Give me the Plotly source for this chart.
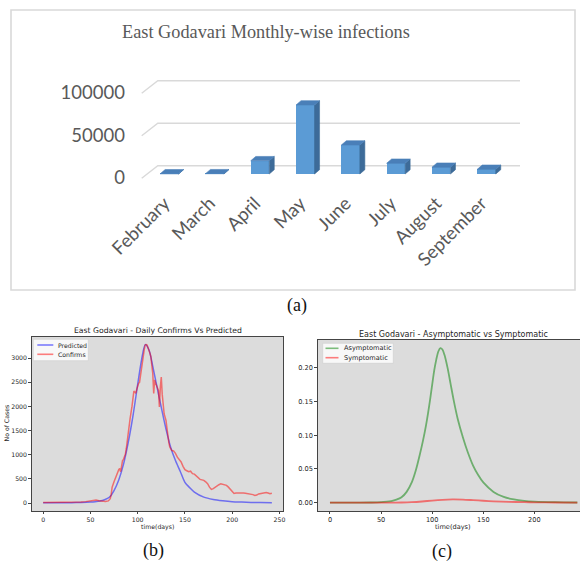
import plotly.graph_objects as go

W, H = 580, 561

# ---------------- data ----------------
months = ["February", "March", "April", "May", "June", "July", "August", "September"]
monthly_cases = [150, 300, 15600, 81200, 34100, 12600, 7900, 5500]
count_ticks = [0, 50000, 100000]
count_tick_text = ["0", "50000", "100000"]

pred_days = [0, 10, 20, 30, 40, 50, 55, 60, 65, 70, 75, 80, 85, 90, 95, 100, 104, 108,
             112, 116, 120, 125, 130, 135, 140, 145, 150, 155, 160, 170, 180, 190, 200,
             210, 220, 230, 242]
pred_cases = [5, 5, 6, 8, 12, 20, 28, 42, 70, 120, 260, 480, 800, 1250, 1800, 2450, 2950, 3280,
              3170, 2830, 2450, 1980, 1530, 1150, 880, 660, 430, 320, 228, 124, 76, 48, 28,
              20, 14, 10, 8]

conf_days = [0, 5, 10, 15, 20, 25, 30, 35, 40, 45, 50, 53, 56, 59, 62, 66, 69, 71, 72, 73,
             75, 77, 78, 80, 81, 82, 84, 85, 86, 87, 88, 89, 90, 92, 94, 95, 96, 97, 98, 99,
             100, 101, 102, 103, 104, 105, 106, 107, 108, 109, 110, 111, 112, 113, 114, 115,
             116, 117, 118, 119, 120, 121, 122, 123, 124, 125, 126, 127, 128, 129, 130, 131,
             132, 133, 134, 135, 136, 138, 140, 142, 144, 146, 148, 150, 152, 154, 156, 158,
             160, 162, 164, 166, 168, 170, 172, 174, 176, 178, 180, 182, 184, 186, 188, 190,
             192, 194, 196, 198, 200, 202, 204, 206, 208, 210, 212, 214, 216, 218, 220, 222,
             224, 226, 228, 230, 232, 234, 236, 238, 240, 242]
conf_cases = [12, 12, 12, 12, 12, 13, 14, 15, 20, 30, 45, 60, 65, 50, 40, 35, 45, 90, 180, 330,
              440, 550, 610, 690, 715, 650, 880, 900, 960, 1010, 1130, 1300, 1500, 1750, 2000, 2150, 2320, 2300, 2270, 2350,
              2450, 2480, 2500, 2650, 2820, 2950, 3050, 3180, 3270, 3280, 3270, 3230, 3160, 3100, 3030, 2850,
              2680, 2270, 2550, 2480, 2400, 2380, 2330, 1990, 2400, 2610, 2250, 1990, 1850, 1780, 1710, 1550,
              1370, 1250, 1160, 1120, 1090, 1080, 1030, 950, 890, 850, 760, 690, 670, 650, 660, 610,
              600, 560, 510, 490, 480, 470, 440, 400, 330, 283, 300, 332, 350, 380, 401, 390,
              375, 366, 330, 280, 228, 200, 207, 210, 205, 215, 210, 205, 200, 195, 190, 175,
              159, 165, 190, 200, 215, 225, 220, 210, 195, 205]

asym_days = [0, 20, 40, 50, 60, 65, 70, 75, 80, 84, 88, 91, 94, 96, 98, 100, 102, 104, 106,
             108, 110, 112, 115, 118, 121, 125, 130, 135, 140, 145, 150, 160, 170, 180, 190,
             200, 220, 242]
asym_frac = [0.0, 0.0001, 0.0003, 0.0008, 0.0025, 0.0045, 0.008, 0.016, 0.030, 0.048, 0.072,
             0.092, 0.115, 0.133, 0.153, 0.175, 0.196, 0.212, 0.224, 0.229, 0.227, 0.219,
             0.200, 0.176, 0.152, 0.124, 0.097, 0.074, 0.055, 0.041, 0.030, 0.016, 0.0085,
             0.0048, 0.0028, 0.0017, 0.0007, 0.0003]

sym_days = [0, 40, 60, 70, 80, 90, 100, 110, 120, 130, 140, 150, 160, 175, 190, 200, 220, 242]
sym_frac = [0.0, 0.0, 0.0001, 0.0003, 0.0008, 0.0018, 0.0032, 0.0043, 0.0049, 0.0046, 0.0038,
            0.0029, 0.0021, 0.0013, 0.0008, 0.0006, 0.0003, 0.0002]


def fx(p):
    return p / W


def fy(p):
    return 1 - p / H


GREY_TXT = "#595959"
MPL_TXT = "#262626"
SPINE = "#444444"

fig = go.Figure()
shapes = []
annotations = []

# ---------------- (a) 3-D column chart ----------------
A_X0, A_X1, A_Y0, A_Y1 = 141, 521, 75, 180
CAT0, CAT_STEP = 169.4, 45.3
BASE_PX, PX_PER_CASE = 174, 42.5 / 50000

a_xrange = [(A_X0 - CAT0) / CAT_STEP, (A_X1 - CAT0) / CAT_STEP]
a_yrange = [(BASE_PX - A_Y1) / PX_PER_CASE, (BASE_PX - A_Y0) / PX_PER_CASE]

BAR_W = 18.5 / CAT_STEP
DEPTH_X = 5 / CAT_STEP
DEPTH_Y = 4.3 / PX_PER_CASE
GRID_BACK = 8.2 / PX_PER_CASE
SLANT_FRONT = 4.3 / PX_PER_CASE
slant_x0 = (141.7 - CAT0) / CAT_STEP
wall_x0 = (157.8 - CAT0) / CAT_STEP
wall_x1 = (520 - CAT0) / CAT_STEP

for t in count_ticks:
    shapes.append(dict(type="path", xref="x", yref="y", layer="below",
                       path=f"M {slant_x0},{t - SLANT_FRONT} L {wall_x0},{t + GRID_BACK} L {wall_x1},{t + GRID_BACK}",
                       line=dict(color="#d9d9d9", width=1.4)))

cat_pos = list(range(len(months)))
fig.add_trace(go.Bar(x=cat_pos, y=monthly_cases, width=BAR_W, xaxis="x", yaxis="y",
                     marker=dict(color="#5b9bd5", line=dict(width=0)), showlegend=False,
                     hoverinfo="skip"))
for i, v in zip(cat_pos, monthly_cases):
    xl, xr = i - BAR_W / 2, i + BAR_W / 2
    fig.add_trace(go.Scatter(x=[xr, xr + DEPTH_X, xr + DEPTH_X, xr, xr],
                             y=[0, DEPTH_Y, v + DEPTH_Y, v, 0], xaxis="x", yaxis="y",
                             fill="toself", fillcolor="#3d6b99", mode="lines",
                             line=dict(width=0.6, color="#3d6b99"), showlegend=False, hoverinfo="skip"))
    fig.add_trace(go.Scatter(x=[xl, xr, xr + DEPTH_X, xl + DEPTH_X, xl],
                             y=[v, v, v + DEPTH_Y, v + DEPTH_Y, v], xaxis="x", yaxis="y",
                             fill="toself", fillcolor="#4a7fb8", mode="lines",
                             line=dict(width=0.6, color="#4a7fb8"), showlegend=False, hoverinfo="skip"))

# panel frame and title
shapes.append(dict(type="rect", xref="paper", yref="paper", layer="below",
                   x0=fx(11), x1=fx(575), y0=fy(290), y1=fy(10),
                   line=dict(color="#d9d9d9", width=1.6), fillcolor="rgba(0,0,0,0)"))
annotations.append(dict(text="East Godavari Monthly-wise infections", x=fx(265.5), y=fy(32),
                        xref="paper", yref="paper", showarrow=False, xanchor="center", yanchor="middle",
                        font=dict(family="Liberation Serif", size=18.3, color=GREY_TXT)))

# ---------------- (b) daily confirms vs predicted ----------------
fig.add_trace(go.Scatter(x=pred_days, y=pred_cases, mode="lines", name="Predicted",
                         line=dict(color="rgba(0,0,255,0.5)", width=1.5, shape="spline", smoothing=0.8),
                         xaxis="x2", yaxis="y2", showlegend=False))
fig.add_trace(go.Scatter(x=conf_days, y=conf_cases, mode="lines", name="Confirms",
                         line=dict(color="rgba(255,0,0,0.5)", width=1.5),
                         xaxis="x2", yaxis="y2", showlegend=False))

# ---------------- (c) asymptomatic vs symptomatic ----------------
fig.add_trace(go.Scatter(x=asym_days, y=asym_frac, mode="lines", name="Asymptomatic",
                         line=dict(color="rgba(0,128,0,0.5)", width=1.8, shape="spline", smoothing=0.8),
                         xaxis="x3", yaxis="y3", showlegend=False))
fig.add_trace(go.Scatter(x=sym_days, y=sym_frac, mode="lines", name="Symptomatic",
                         line=dict(color="rgba(255,0,0,0.5)", width=1.8, shape="spline", smoothing=0.8),
                         xaxis="x3", yaxis="y3", showlegend=False))

for ax in ("x2", "x3"):
    yax = "y" + ax[1:]
    shapes.append(dict(type="rect", xref=f"{ax} domain", yref=f"{yax} domain", layer="below",
                       x0=0, x1=1, y0=0, y1=1, fillcolor="#dcdcdc", line=dict(width=0)))


def mpl_legend(box, entries, size):
    (bx0, by0, bx1, by1) = box
    shapes.append(dict(type="rect", xref="paper", yref="paper", x0=fx(bx0), x1=fx(bx1),
                       y0=fy(by1), y1=fy(by0), fillcolor="rgba(255,255,255,0.8)",
                       line=dict(color="#cccccc", width=0.6)))
    for (lx0, lx1, ly, tx, label, color) in entries:
        shapes.append(dict(type="line", xref="paper", yref="paper", x0=fx(lx0), x1=fx(lx1),
                           y0=fy(ly), y1=fy(ly), line=dict(color=color, width=1.6)))
        annotations.append(dict(text=label, x=fx(tx), y=fy(ly), xref="paper", yref="paper",
                                showarrow=False, xanchor="left", yanchor="middle",
                                font=dict(family="DejaVu Sans", size=size, color=MPL_TXT)))


mpl_legend((33.3, 339.3, 88.3, 360.7),
           [(37.3, 53.3, 345.0, 55.5, "Predicted", "rgba(0,0,255,0.5)"),
            (37.3, 53.3, 354.3, 55.5, "Confirms", "rgba(255,0,0,0.5)")], 6.2)
mpl_legend((322.7, 343.3, 393.3, 363.3),
           [(325.5, 338.5, 348.3, 341.5, "Asymptomatic", "rgba(0,128,0,0.5)"),
            (325.5, 338.5, 357.7, 341.5, "Symptomatic", "rgba(255,0,0,0.5)")], 6.6)


def label(text, x, y, size, family="DejaVu Sans", color=MPL_TXT, angle=0):
    annotations.append(dict(text=text, x=fx(x), y=fy(y), xref="paper", yref="paper",
                            showarrow=False, xanchor="center", yanchor="middle", textangle=angle,
                            font=dict(family=family, size=size, color=color)))


label("East Godavari - Daily Confirms Vs Predicted", 157.5, 330, 7.7)
label("time(days)", 157.0, 526.7, 6.2)
label("No of Cases", 5.5, 423, 6.2, angle=-90)
label("East Godavari - Asymptomatic vs Symptomatic", 453.8, 334, 8.0)
label("time(days)", 453.0, 526.7, 6.6)

label("(a)", 297, 305, 18, family="Liberation Serif", color="#111111")
label("(b)", 153.7, 550.5, 18, family="Liberation Serif", color="#111111")
label("(c)", 441.7, 551.0, 18, family="Liberation Serif", color="#111111")

mpl_axis = dict(showgrid=False, zeroline=False, showline=True, linecolor=SPINE, linewidth=0.9,
                ticks="outside", ticklen=2.5, tickwidth=0.8, tickcolor=SPINE, automargin=False)

fig.update_layout(
    width=W, height=H, margin=dict(l=0, r=0, t=0, b=0, autoexpand=False),
    paper_bgcolor="white", plot_bgcolor="rgba(0,0,0,0)",
    showlegend=False, bargap=0,
    xaxis=dict(domain=[fx(A_X0), fx(A_X1)], range=a_xrange, tickvals=cat_pos, ticktext=months,
               tickangle=-45, showgrid=False, zeroline=False, showline=False, ticks="",
               ticklabelstandoff=8, ticklabelshift=-5, automargin=False,
               tickfont=dict(family="Lato", size=18.5, color=GREY_TXT), anchor="y"),
    yaxis=dict(domain=[fy(A_Y1), fy(A_Y0)], range=a_yrange, tickvals=count_ticks,
               ticktext=count_tick_text, showgrid=False, zeroline=False, showline=False, ticks="",
               ticklabelstandoff=15, ticklabelshift=4, automargin=False,
               tickfont=dict(family="Lato", size=18.5, color=GREY_TXT), anchor="x"),
    xaxis2=dict(domain=[fx(31.7), fx(283.3)], range=[-12.1, 254.1], tickvals=[0, 50, 100, 150, 200, 250],
                mirror=True, tickfont=dict(family="DejaVu Sans", size=6.2, color=MPL_TXT),
                anchor="y2", **mpl_axis),
    yaxis2=dict(domain=[fy(511), fy(336.7)], range=[-164, 3444], tickvals=[0, 500, 1000, 1500, 2000, 2500, 3000],
                mirror=True, tickfont=dict(family="DejaVu Sans", size=6.2, color=MPL_TXT),
                anchor="x2", **mpl_axis),
    xaxis3=dict(domain=[fx(317.6), 1.0], range=[-12.1, 244.6], tickvals=[0, 50, 100, 150, 200],
                mirror=True, tickfont=dict(family="DejaVu Sans", size=6.6, color=MPL_TXT),
                anchor="y3", **mpl_axis),
    yaxis3=dict(domain=[fy(511), fy(340)], range=[-0.0123, 0.241], tickvals=[0, 0.05, 0.10, 0.15, 0.20],
                tickformat=".2f", tickfont=dict(family="DejaVu Sans", size=6.6, color=MPL_TXT),
                anchor="x3", **mpl_axis),
    shapes=shapes, annotations=annotations,
)

fig.write_html("out.html")
